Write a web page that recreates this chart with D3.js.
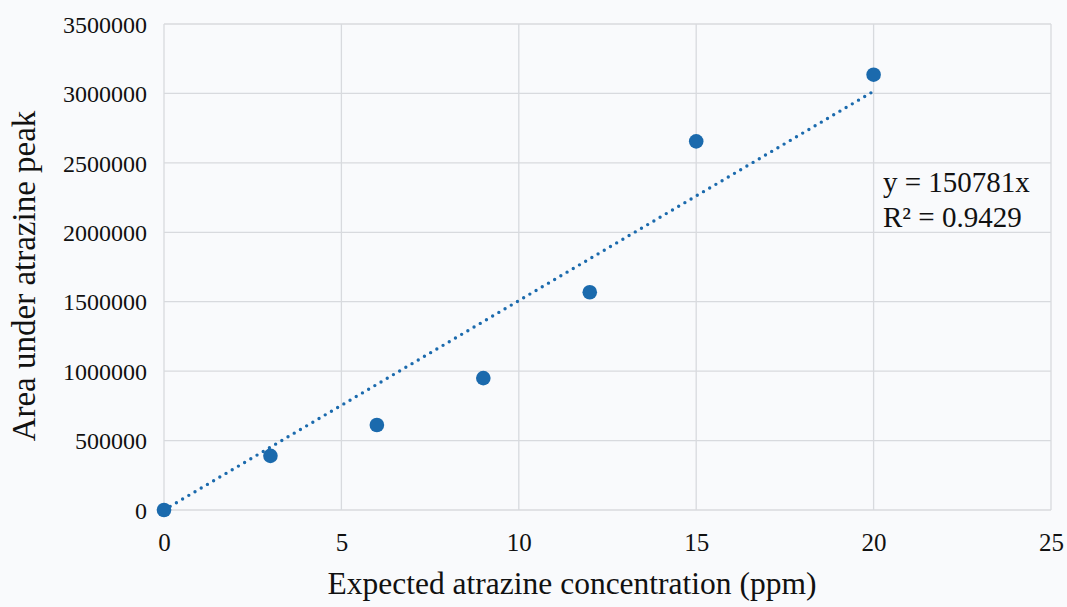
<!DOCTYPE html>
<html>
<head>
<meta charset="utf-8">
<script src="https://cdn.jsdelivr.net/npm/d3@7"></script>
<style>
  html, body { margin: 0; padding: 0; background: #f9fafc; }
  svg { display: block; }
  text { font-family: "Liberation Serif", "Times New Roman", serif; fill: #111; }
</style>
</head>
<body>
<svg id="chart" width="1067" height="607"></svg>
<script>
// Measured calibration points
const concentrations = [0, 3, 6, 9, 12, 15, 20];
const peakAreas = [0, 390000, 612000, 950000, 1568000, 2655000, 3135000];

// Axis ticks
const xTicks = [0, 5, 10, 15, 20, 25];
const yTicks = [0, 500000, 1000000, 1500000, 2000000, 2500000, 3000000, 3500000];

// Linear fit through the origin
const slope = 150781;
const rSquared = "0.9429";
const fitRange = [0, 20];

const xLabel = "Expected atrazine concentration (ppm)";
const yLabel = "Area under atrazine peak";

const svg = d3.select("#chart");
const plot = { left: 164, right: 1051, top: 24, bottom: 510 };
const blue = "#1b6aad";

const x = d3.scaleLinear().domain([0, 25]).range([plot.left, plot.right]);
const y = d3.scaleLinear().domain([0, 3500000]).range([plot.bottom, plot.top]);

// Gridlines
const grid = svg.append("g");
grid.selectAll("line.h").data(yTicks).join("line")
  .attr("x1", plot.left).attr("x2", plot.right)
  .attr("y1", d => y(d)).attr("y2", d => y(d))
  .attr("stroke", "#d8dade").attr("stroke-width", 1.3);
grid.selectAll("line.v").data(xTicks).join("line")
  .attr("y1", plot.top).attr("y2", plot.bottom)
  .attr("x1", d => x(d)).attr("x2", d => x(d))
  .attr("stroke", "#d8dade").attr("stroke-width", 1.3);

// Axes (labels only)
const yAxis = d3.axisLeft(y).tickValues(yTicks).tickFormat(d3.format("d")).tickSize(0).tickPadding(17);
svg.append("g").attr("transform", `translate(${plot.left},0)`).call(yAxis)
  .call(g => g.select(".domain").remove())
  .call(g => g.selectAll("text").style("font-size", "24px").style("font-family", "Liberation Serif").attr("fill", "#111").attr("dy", "0.34em"));

const xAxis = d3.axisBottom(x).tickValues(xTicks).tickFormat(d3.format("d")).tickSize(0).tickPadding(23);
svg.append("g").attr("transform", `translate(0,${plot.bottom})`).call(xAxis)
  .call(g => g.select(".domain").remove())
  .call(g => g.selectAll("text").style("font-size", "25px").style("font-family", "Liberation Serif").attr("fill", "#111"));

// Trendline (dotted)
const fit = fitRange.map(c => [c, slope * c]);
svg.append("path")
  .datum(fit)
  .attr("d", d3.line().x(d => x(d[0])).y(d => y(d[1])))
  .attr("fill", "none")
  .attr("stroke", blue)
  .attr("stroke-width", 3.4)
  .attr("stroke-linecap", "round")
  .attr("stroke-dasharray", "0,7.2");

// Data points
svg.append("g").selectAll("circle")
  .data(concentrations.map((c, i) => [c, peakAreas[i]]))
  .join("circle")
  .attr("cx", d => x(d[0]))
  .attr("cy", d => y(d[1]))
  .attr("r", 7.3)
  .attr("fill", blue);

// Equation label
svg.append("text").attr("x", 883).attr("y", 192).style("font-size", "29px")
  .text(`y = ${slope}x`);
svg.append("text").attr("x", 883).attr("y", 227).style("font-size", "29px")
  .text(`R² = ${rSquared}`);

// Axis titles
svg.append("text")
  .attr("x", 572)
  .attr("y", 594)
  .attr("text-anchor", "middle")
  .style("font-size", "31.5px")
  .text(xLabel);

svg.append("text")
  .attr("transform", `translate(35,276) rotate(-90)`)
  .attr("text-anchor", "middle")
  .style("font-size", "33px")
  .text(yLabel);
</script>
</body>
</html>
